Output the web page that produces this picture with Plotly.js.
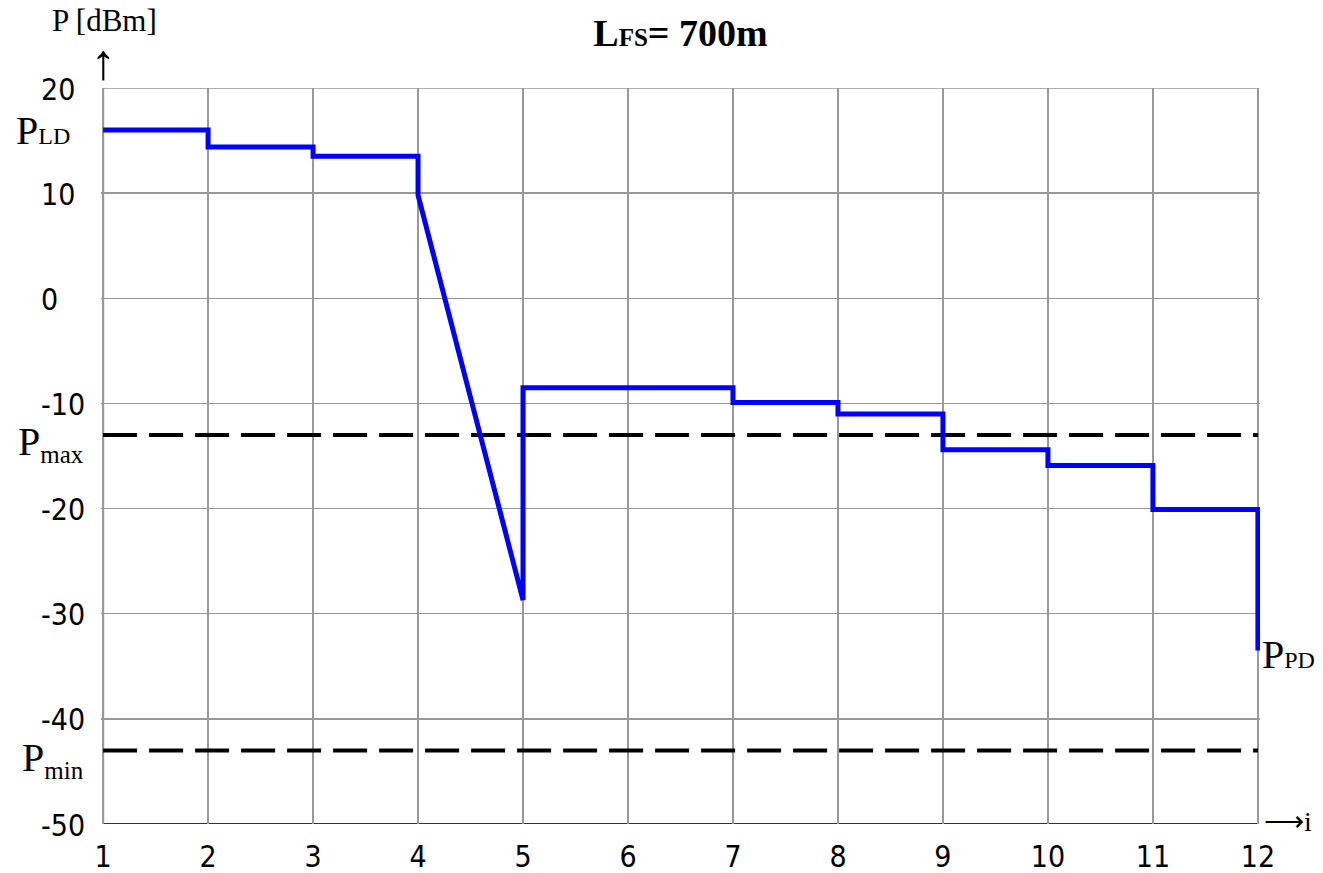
<!DOCTYPE html>
<html>
<head>
<meta charset="utf-8">
<script src="https://cdn.plot.ly/plotly-3.0.1.min.js"></script>
<style>html,body{margin:0;padding:0;background:#fff;}#chart{width:1323px;height:873px;}</style>
</head>
<body>
<div id="chart"></div>
<script>
// Power level vertices along the link (i = element index)
const stageX = [1, 2, 2, 3, 3, 4, 4, 5, 5, 7, 7, 8, 8, 9, 9, 10, 10, 11, 11, 12, 12];
const powerDbm = [16.0, 16.0, 14.4, 14.4, 13.5, 13.5, 9.8, -28.7, -8.5, -8.5, -9.9, -9.9, -11.0, -11.0, -14.4, -14.4, -15.9, -15.9, -20.1, -20.1, -33.5];
const pMax = -13.0;
const pMin = -43.0;
const xTicks = [1, 2, 3, 4, 5, 6, 7, 8, 9, 10, 11, 12];
const yTicks = [-50, -40, -30, -20, -10, 0, 10, 20];
const xRange = [1, 12];
const yRange = [-50, 20];

const serif = 'Liberation Serif';
const narrow = 'Liberation Sans Narrow, DejaVu Sans Condensed, sans-serif';
const pad = 0.02;

const traces = [
  {x: xRange, y: [pMax, pMax], mode: 'lines', line: {color: '#000', width: 4, dash: '34px,12px'}, hoverinfo: 'skip'},
  {x: xRange, y: [pMin, pMin], mode: 'lines', line: {color: '#000', width: 4, dash: '34px,12px'}, hoverinfo: 'skip'},
  {x: stageX, y: powerDbm, mode: 'lines', line: {color: '#0000ff', width: 5}}
];

const yTickAnnotations = yTicks.map(v => ({
  xref: 'paper', yref: 'y', x: 0, y: v, xanchor: 'left', yanchor: 'middle', xshift: -62, yshift: -1,
  text: String(v), showarrow: false, font: {family: narrow, size: 30, color: '#000'}
}));

const layout = {
  width: 1323, height: 873,
  margin: {l: 101, r: 63, t: 88, b: 49},
  paper_bgcolor: '#fff', plot_bgcolor: '#fff',
  showlegend: false,
  font: {family: serif, color: '#000'},
  title: {
    text: '<b>L<span style="font-size:25px">FS</span>= 700m</b>',
    font: {family: serif, size: 38, color: '#000'},
    x: 0.5, xref: 'paper', xanchor: 'center', y: 0.963, yanchor: 'middle'
  },
  xaxis: {
    range: [xRange[0] - pad, xRange[1] + pad], tickvals: xTicks, ticktext: xTicks.map(String),
    showgrid: true, gridcolor: '#999', gridwidth: 1.5,
    showline: false,
    ticks: '', ticklabelstandoff: 12, zeroline: false,
    tickfont: {family: narrow, size: 30, color: '#000'}
  },
  yaxis: {
    range: yRange, tickvals: yTicks, showticklabels: false,
    showgrid: true, gridcolor: '#999', gridwidth: 1.5,
    showline: false,
    ticks: '', zeroline: false
  },
  shapes: [
    {type: 'line', xref: 'x', yref: 'y', x0: xRange[0], x1: xRange[1], y0: yRange[1], y1: yRange[1], line: {color: '#999', width: 1.5}, layer: 'below'},
    {type: 'line', xref: 'x', yref: 'y', x0: xRange[0], x1: xRange[0], y0: yRange[0], y1: yRange[1], line: {color: '#333', width: 2}, layer: 'below'},
    {type: 'line', xref: 'x', yref: 'y', x0: xRange[0], x1: xRange[1], y0: yRange[0], y1: yRange[0], line: {color: '#333', width: 2}, layer: 'below'}
  ],
  annotations: yTickAnnotations.concat([
    {xref: 'x', yref: 'paper', x: xRange[0], y: 1, xanchor: 'center', yanchor: 'bottom', yshift: 48, xshift: 1,
     text: 'P [dBm]', showarrow: false, font: {family: serif, size: 31, color: '#000'}},
    {xref: 'x', yref: 'paper', x: xRange[0], y: 1, xanchor: 'center', yanchor: 'bottom', yshift: -4,
     text: '↑', showarrow: false, font: {family: serif, size: 50, color: '#000'}},
    {xref: 'x', yref: 'paper', x: xRange[1], y: 0, xanchor: 'left', yanchor: 'middle', xshift: 4, yshift: 3,
     text: '⟶i', showarrow: false, font: {family: serif, size: 28, color: '#000'}},
    {xref: 'paper', yref: 'y', x: 0, y: powerDbm[0], xanchor: 'right', yanchor: 'middle', xshift: -29,
     text: 'P<span style="font-size:24px">LD</span>', showarrow: false, font: {family: serif, size: 40, color: '#000'}},
    {xref: 'paper', yref: 'y', x: 0, y: pMax, xanchor: 'right', yanchor: 'middle', xshift: -15, yshift: -9,
     text: 'P<sub><span style="font-size:25px">max</span></sub>', showarrow: false, font: {family: serif, size: 40, color: '#000'}},
    {xref: 'paper', yref: 'y', x: 0, y: pMin, xanchor: 'right', yanchor: 'middle', xshift: -15, yshift: -9,
     text: 'P<sub><span style="font-size:25px">min</span></sub>', showarrow: false, font: {family: serif, size: 40, color: '#000'}},
    {xref: 'x', yref: 'y', x: stageX[stageX.length - 1], y: powerDbm[powerDbm.length - 1], xanchor: 'left', yanchor: 'middle', xshift: 2, yshift: -4,
     text: 'P<span style="font-size:24px">PD</span>', showarrow: false, font: {family: serif, size: 40, color: '#000'}}
  ])
};

Plotly.newPlot('chart', traces, layout, {displayModeBar: false, staticPlot: true});
</script>
</body>
</html>
